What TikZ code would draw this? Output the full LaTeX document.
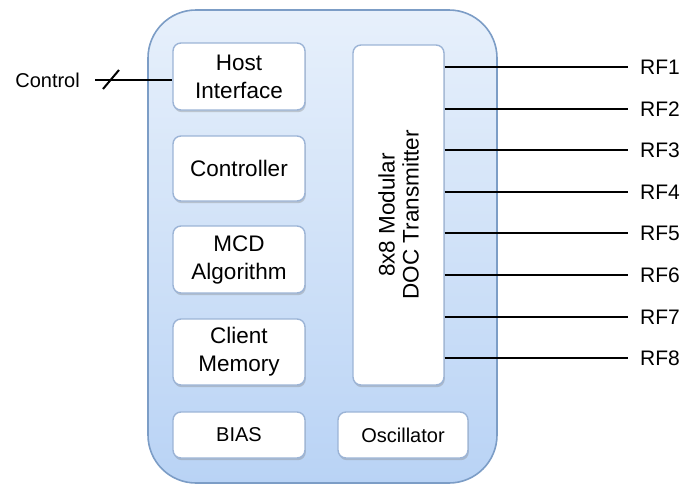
\documentclass[tikz,border=0pt]{standalone}
\usepackage{fontspec}
\setmainfont{Liberation Sans}
\usetikzlibrary{shadows}
\definecolor{chipedge}{HTML}{7C9DC6}
\definecolor{chiptop}{HTML}{E7F0FB}
\definecolor{chipbot}{HTML}{B9D3F5}
\definecolor{boxedge}{HTML}{9CB4D6}

\begin{document}
\begin{tikzpicture}[x=1pt,y=-1pt,
    chipbox/.style={draw=chipedge,line width=1.6pt,rounded corners=48pt,
      top color=chiptop,bottom color=chipbot,minimum width=349pt,minimum height=473pt},
    blockbox/.style={draw=boxedge,line width=1.4pt,fill=white,rounded corners=8pt,
      minimum width=132pt,align=center,inner sep=0pt,
      font=\fontsize{22.5}{28}\selectfont,
      drop shadow={shadow xshift=0.8pt,shadow yshift=-2.2pt,opacity=0.35}},
    rflabel/.style={anchor=west,inner sep=0pt,font=\fontsize{21}{24}\selectfont},
    wire/.style={line width=2pt}]
  \useasboundingbox (0,0) rectangle (691,485);
  \node[chipbox] (chip) at (322.5,246.5) {};

  \node[blockbox,minimum height=67pt] (host) at (239,76.5) {Host\\Interface};
  \node[blockbox,minimum height=65pt] (ctrl) at (239,168.5) {Controller};
  \node[blockbox,minimum height=67pt] (mcd) at (239,259.5) {MCD\\Algorithm};
  \node[blockbox,minimum height=66pt] (mem) at (239,352) {Client\\Memory};
  \node[blockbox,minimum height=46pt,font=\fontsize{20}{24}\selectfont] (bias) at (239,435) {BIAS};
  \node[blockbox,minimum height=46pt,minimum width=130pt,font=\fontsize{20}{24}\selectfont] (osc) at (403,435) {Oscillator};
  \node[blockbox,minimum height=340pt,minimum width=91pt] (tx) at (398.5,215) {};
  \node[rotate=90,align=center,font=\fontsize{22.5}{24}\selectfont] (txt) at (tx.center) {8x8 Modular\\DOC Transmitter};

  % control input
  \coordinate (ctl) at (95,80);
  \node[anchor=east,inner sep=0pt,font=\fontsize{20}{24}\selectfont] (ctllabel) at (80,80) {Control};
  \draw[wire] (ctl) -- (ctl -| host.west);
  \draw[wire] (ctl) ++(8,9) -- ++(16,-19);

  % rf outputs
  \foreach \i in {1,...,8}{
    \coordinate (rf\i) at (628,{round(67+(\i-1)*41.6)});
    \draw[wire] (rf\i -| tx.east) -- (rf\i);
    \node[rflabel] (rflab\i) at ([xshift=12pt]rf\i) {RF\i};
  }
\end{tikzpicture}
\end{document}
